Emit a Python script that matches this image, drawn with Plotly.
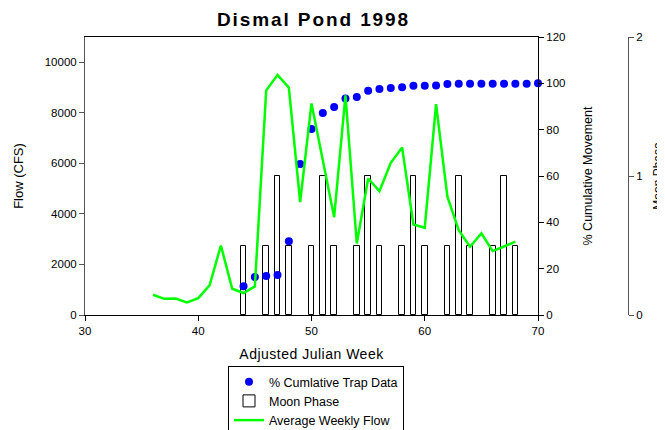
import plotly.graph_objects as go

# ---- data ----
flow_weeks = list(range(36, 69))
flow_cfs = [800, 640, 650, 500, 670, 1170, 2750, 1040, 870, 1130,
            8890, 9500, 9000, 4470, 8370, 6150, 3870, 8690, 2830, 5400,
            4900, 6020, 6630, 3580, 3450, 8340, 4680, 3360, 2700, 3230,
            2530, 2710, 2900]

cum_weeks = list(range(44, 71))
cum_pct = [12.4, 16.4, 16.8, 17.3, 31.8, 65.2, 80.3, 87.2, 89.8, 93.5,
           94.1, 96.8, 97.6, 98.0, 98.3, 99.0, 99.0, 99.1, 99.7, 99.8,
           99.8, 99.8, 99.8, 99.8, 99.8, 99.8, 100.0]

moon_weeks = list(range(44, 69))
moon_phase = [0.5, 0, 0.5, 1, 0.5, 0, 0.5, 1, 0.5, 0, 0.5, 1, 0.5, 0,
              0.5, 1, 0.5, 0, 0.5, 1, 0.5, 0, 0.5, 1, 0.5]

x_ticks = [30, 40, 50, 60, 70]
flow_ticks = [0, 2000, 4000, 6000, 8000, 10000]
cum_ticks = [0, 20, 40, 60, 80, 100, 120]
moon_ticks = [0, 1, 2]

FONT = "Liberation Sans, Arial, sans-serif"

# new-moon weeks (phase 0) have no visible bar
bar_x = [w for w, p in zip(moon_weeks, moon_phase) if p > 0]
bar_y = [p for p in moon_phase if p > 0]

fig = go.Figure()

fig.add_trace(go.Scatter(
    x=cum_weeks, y=cum_pct, mode="markers", name="% Cumlative Trap Data",
    marker=dict(color="#0000ff", size=8), yaxis="y2", cliponaxis=False))

fig.add_trace(go.Bar(
    x=bar_x, y=bar_y, name="Moon Phase", width=0.5,
    marker=dict(color="white", line=dict(color="black", width=1)),
    yaxis="y"))

fig.add_trace(go.Scatter(
    x=flow_weeks, y=flow_cfs, mode="lines", name="Average Weekly Flow",
    line=dict(color="#00ff00", width=2.5), yaxis="y3"))

axis_common = dict(ticks="outside", ticklen=5, showgrid=False, zeroline=False,
                   showline=True, automargin=False,
                   tickfont=dict(size=11.5, color="black"))

# page body has an 8px margin, so the figure is 8px smaller and offset
fig.update_layout(
    width=657, height=422,
    margin=dict(l=77, r=37, t=29, b=115, autoexpand=False),
    paper_bgcolor="white", plot_bgcolor="white",
    font=dict(family=FONT, color="black", size=12),
    title=dict(text='<span style="letter-spacing:1.9px"><b>Dismal Pond 1998</b></span>',
               xref="paper", x=(313.5 - 85) / 543,
               xanchor="center", yref="container", y=0.99, yanchor="top",
               font=dict(size=19, family=FONT, color="black")),
    showlegend=True,
    legend=dict(x=(228 - 85) / 543, y=(315 - 366) / 278, xanchor="left", yanchor="top",
                bordercolor="black", borderwidth=1, bgcolor="white",
                font=dict(size=12.5, family=FONT), tracegroupgap=0,
                traceorder="normal"),
    bargap=0,
    xaxis=dict(domain=[0, 453 / 543], range=[30, 70], tickvals=x_ticks,
               linecolor="black", tickcolor="black", mirror=True, anchor="y",
               title=dict(text='<span style="letter-spacing:0.5px">Adjusted Julian Week</span>',
                          font=dict(size=14), standoff=13),
               **axis_common),
    yaxis=dict(range=[0, 2], tickvals=moon_ticks, side="right", anchor="free",
               position=1.0, linecolor="#555", tickcolor="#555",
               title=dict(text="Moon Phase", font=dict(size=12), standoff=12),
               **axis_common),
    yaxis2=dict(range=[0, 120], tickvals=cum_ticks, side="right", anchor="x",
                overlaying="y", linecolor="black", tickcolor="black",
                title=dict(text="% Cumulative Movement", font=dict(size=12.5), standoff=18),
                **axis_common),
    yaxis3=dict(range=[0, 11000], tickvals=flow_ticks, tickformat="d", side="left",
                anchor="x", overlaying="y", linecolor="#555", tickcolor="#555",
                title=dict(text="Flow (CFS)", font=dict(size=13), standoff=18),
                **axis_common),
)

fig.write_html("out.html")
